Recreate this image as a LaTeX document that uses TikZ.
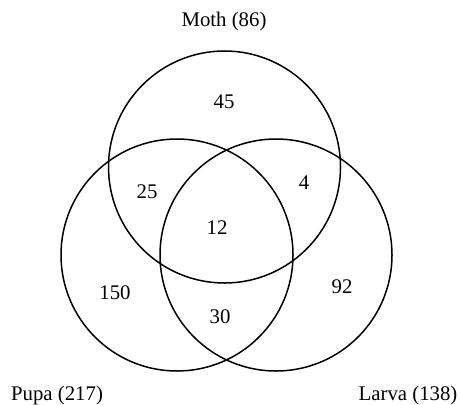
\documentclass[tikz,border=0pt]{standalone}
\usepackage{fontspec}
\setmainfont{Liberation Serif}
\begin{document}
\begin{tikzpicture}[x=1pt,y=-1pt,
  setc/.style={draw=black,line width=1.5pt,circle,minimum size=232pt,inner sep=0pt},
  lab/.style={font=\fontsize{20.8}{23}\selectfont,inner sep=0pt}]
\useasboundingbox (0,0) rectangle (460,404);
\node[setc] (moth) at (224.5,167) {};
\node[setc] (pupa) at (177,255) {};
\node[setc] (larva) at (276,255) {};
\node[lab] (tm) at (224,21) {Moth (86)};
\node[lab] (tp) at (57,395) {Pupa (217)};
\node[lab] (tl) at (408,395) {Larva (138)};
\node[lab] (n45) at (224,102) {45};
\node[lab] (n25) at (147,192) {25};
\node[lab] (n4) at (304,183) {4};
\node[lab] (n12) at (217,228) {12};
\node[lab] (n150) at (115,293) {150};
\node[lab] (n30) at (220,317) {30};
\node[lab] (n92) at (342,287) {92};
\end{tikzpicture}
\end{document}
